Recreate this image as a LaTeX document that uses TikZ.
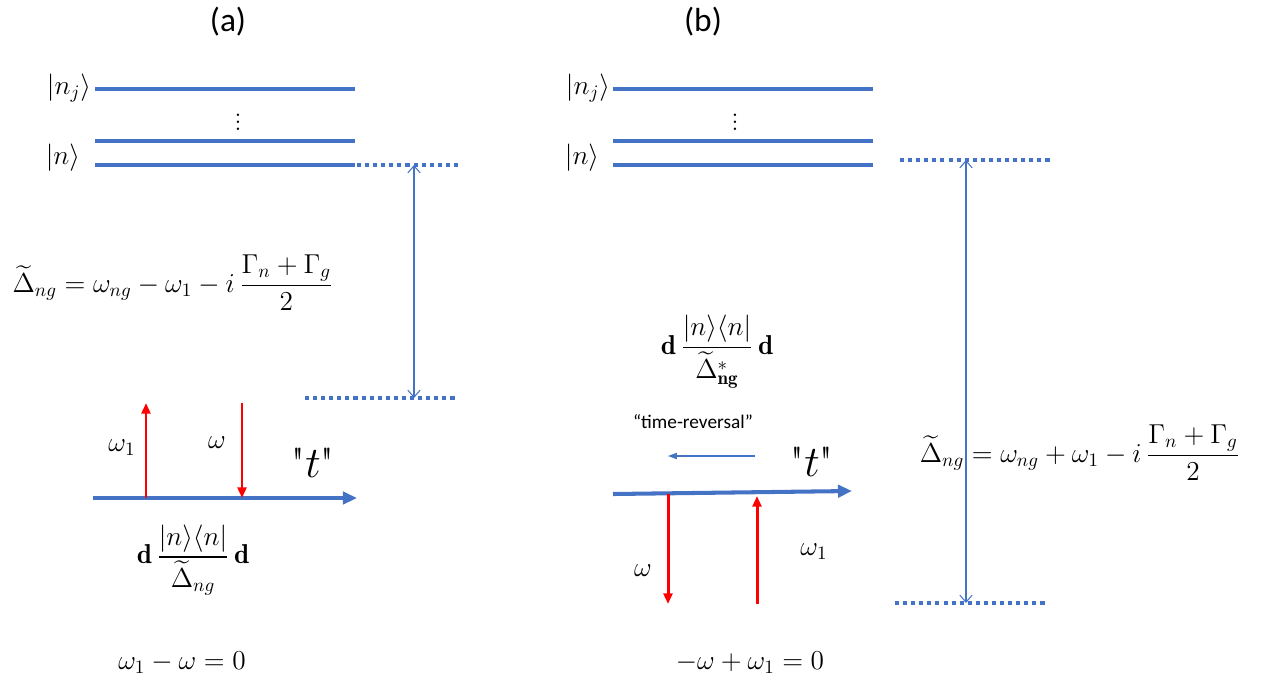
\documentclass[tikz,border=0pt]{standalone}
\usepackage{amsmath}
\usepackage{graphicx}
\usepackage{fontspec}
\newfontfamily\labfont{Carlito}
\newfontfamily\qfont{Latin Modern Roman}[Ligatures=TeXOff]
\usetikzlibrary{arrows.meta}
\definecolor{lvlblue}{HTML}{4472C4}
\definecolor{arrred}{HTML}{FF0000}
\newcommand{\mbig}[1]{\scalebox{1.08}{$#1$}}
\begin{document}
\begin{tikzpicture}[x=0.02cm,y=-0.02cm,
  level/.style={draw=lvlblue, line width=2.3pt},
  dotlvl/.style={draw=lvlblue, line width=2.3pt, dash pattern=on 2.3pt off 2.3pt},
  axisline/.style={draw=lvlblue, line width=2.3pt, -{Triangle[length=8pt,width=7pt]}},
  photon/.style={draw=arrred, line width=1.7pt, -{Triangle[length=6pt,width=5pt]}},
  gaparrow/.style={draw=lvlblue, line width=0.6pt, {Straight Barb[length=4pt,width=7pt]}-{Straight Barb[length=4pt,width=7pt]}},
  revarrow/.style={draw=lvlblue, line width=0.6pt, -{Triangle[length=5pt,width=3.5pt]}},
  mth/.style={font=\fontsize{14.4}{17}\selectfont, inner sep=0pt},
  panel/.style={font=\labfont\fontsize{19}{21}\selectfont, inner sep=0pt},
  tlab/.style={font=\qfont\fontsize{24}{26}\selectfont, inner sep=0pt},
  note/.style={font=\labfont\fontsize{11}{13}\selectfont, inner sep=0pt}
]
\useasboundingbox (0,0) rectangle (1261,687);

% ---------------- panel (a) ----------------
\node[panel] (ta) at (228,22) {(a)};
\node[mth] (ka1) at (69,88) {\mbig{|n_j\rangle}};
\node[mth] (ka2) at (63,158) {\mbig{|n\rangle}};
\node[mth] (vda) at (238,117) {$\vdots$};
\coordinate (aL1) at (95,89);  \coordinate (aR1) at (355,89);
\coordinate (aL2) at (95,141); \coordinate (aR2) at (355,141);
\coordinate (aL3) at (95,165); \coordinate (aR3) at (355,165);
\draw[level] (aL1) -- (aR1);
\draw[level] (aL2) -- (aR2);
\draw[level] (aL3) -- (aR3);
\coordinate (aD1L) at (357,165); \coordinate (aD1R) at (462,165);
\coordinate (aD2L) at (305,398); \coordinate (aD2R) at (458,398);
\draw[dotlvl] (aD1L) -- (aD1R);
\draw[dotlvl] (aD2L) -- (aD2R);
\coordinate (aG1) at (414,165); \coordinate (aG2) at (414,398);
\draw[gaparrow] (aG1) -- (aG2);
\node[mth] (fa) at (173,283) {\mbig{\widetilde{\Delta}_{ng}=\omega_{ng}-\omega_1-i\,\dfrac{\Gamma_n+\Gamma_g}{2}}};
\coordinate (aX0) at (93,498); \coordinate (aX1) at (357,498);
\draw[axisline] (aX0) -- (aX1);
\coordinate (aP1b) at (146,498); \coordinate (aP1t) at (146,403);
\coordinate (aP2t) at (242,403); \coordinate (aP2b) at (242,498);
\draw[photon] (aP1b) -- (aP1t);
\draw[photon] (aP2t) -- (aP2b);
\node[mth] (wa1) at (122,448) {\mbig{\omega_1}};
\node[mth] (wa) at (217,443) {\mbig{\omega}};
\node[tlab] (tta) at (313,463) {"$t$"};
\node[mth] (da) at (193,560) {\mbig{\mathbf{d}\,\dfrac{|n\rangle\langle n|}{\widetilde{\Delta}_{ng}}\,\mathbf{d}}};
\node[mth] (ea) at (182,663) {\mbig{\omega_1-\omega=0}};

% ---------------- panel (b) ----------------
\node[panel] (tb) at (703,22) {(b)};
\node[mth] (kb1) at (588,88) {\mbig{|n_j\rangle}};
\node[mth] (kb2) at (582,158) {\mbig{|n\rangle}};
\node[mth] (vdb) at (735,117) {$\vdots$};
\coordinate (bL1) at (613,89);  \coordinate (bR1) at (873,89);
\coordinate (bL2) at (613,141); \coordinate (bR2) at (873,141);
\coordinate (bL3) at (613,165); \coordinate (bR3) at (873,165);
\draw[level] (bL1) -- (bR1);
\draw[level] (bL2) -- (bR2);
\draw[level] (bL3) -- (bR3);
\coordinate (bD1L) at (900,160); \coordinate (bD1R) at (1051,160);
\coordinate (bD2L) at (895,603); \coordinate (bD2R) at (1047,603);
\draw[dotlvl] (bD1L) -- (bD1R);
\draw[dotlvl] (bD2L) -- (bD2R);
\coordinate (bG1) at (966,160); \coordinate (bG2) at (966,603);
\draw[gaparrow] (bG1) -- (bG2);
\node[mth] (fb) at (1080,453) {\mbig{\widetilde{\Delta}_{ng}=\omega_{ng}+\omega_1-i\,\dfrac{\Gamma_n+\Gamma_g}{2}}};
\node[mth] (db) at (717,352) {\mbig{\mathbf{d}\,\dfrac{|n\rangle\langle n|}{\widetilde{\Delta}^{*}_{\mathbf{ng}}}\,\mathbf{d}}};
\node[note] (tr) at (693,422) {“time-reversal”};
\coordinate (bR0) at (755,456); \coordinate (bR1x) at (668,456);
\draw[revarrow] (bR0) -- (bR1x);
\node[tlab] (ttb) at (812,462) {"$t$"};
\coordinate (bX0) at (613,494); \coordinate (bX1) at (852,491);
\draw[axisline] (bX0) -- (bX1);
\coordinate (bP1t) at (668,494); \coordinate (bP1b) at (668,604);
\coordinate (bP2b) at (757,604); \coordinate (bP2t) at (757,496);
\draw[photon] (bP1t) -- (bP1b);
\draw[photon] (bP2b) -- (bP2t);
\node[mth] (wb) at (643,571) {\mbig{\omega}};
\node[mth] (wb1) at (814,552) {\mbig{\omega_1}};
\node[mth] (eb) at (750,663) {\mbig{-\omega+\omega_1=0}};
\end{tikzpicture}
\end{document}
